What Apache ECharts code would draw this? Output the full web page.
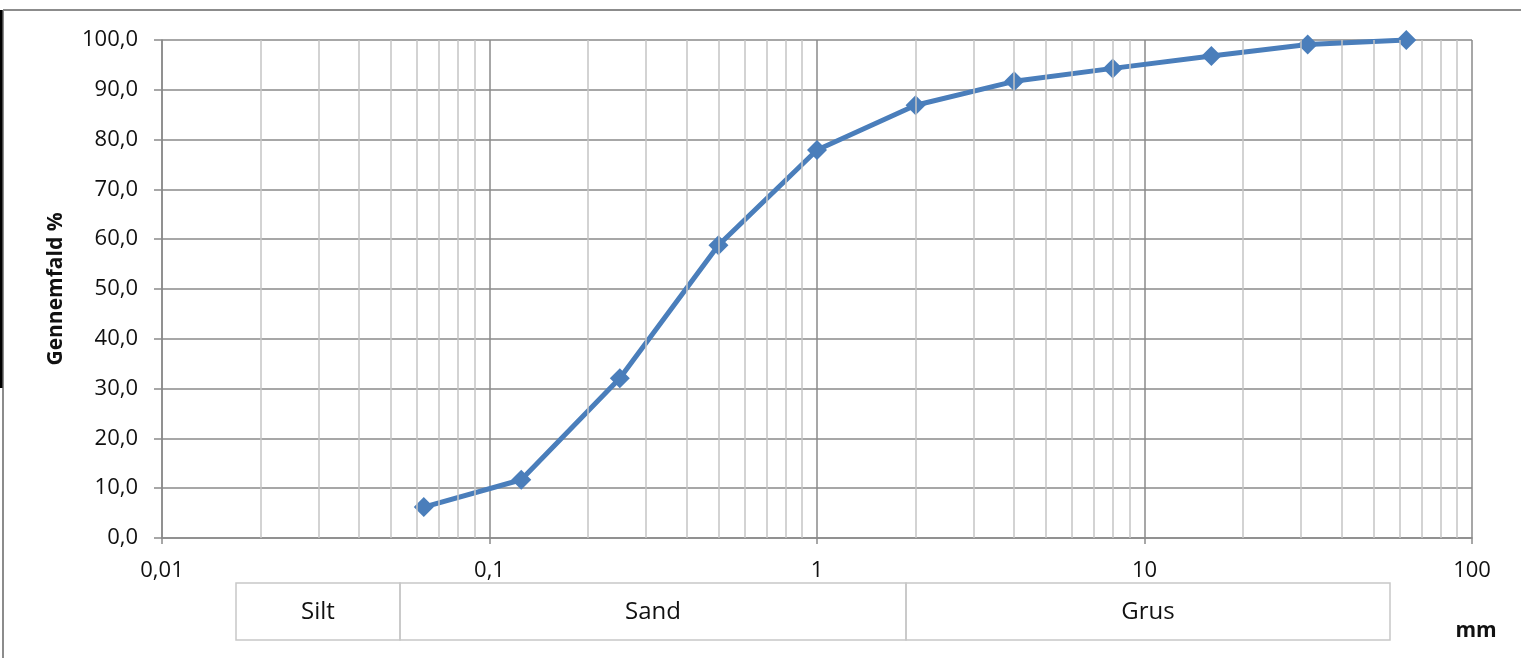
<!DOCTYPE html>
<html>
<head>
<meta charset="utf-8">
<script src="https://cdn.jsdelivr.net/npm/echarts@6/dist/echarts.min.js"></script>
<style>
  html, body { margin: 0; padding: 0; background: #fff; }
  #chart { width: 1521px; height: 658px; }
</style>
</head>
<body>
<div id="chart"></div>
<script>
// sieve sizes (mm) and percent passing
var sieveSizes = [0.063, 0.125, 0.25, 0.5, 1, 2, 4, 8, 16, 31.5, 63];
var passing = [6.2, 11.7, 32.1, 58.8, 77.9, 86.9, 91.7, 94.3, 96.8, 99.1, 100.0];
var xTickLabels = ['0,01', '0,1', '1', '10', '100'];
var soilClasses = ['Silt', 'Sand', 'Grus'];

var blue = '#4a7ebb';
var major = '#8a8a8a';
var minor = '#c4c4c4';
var font = '"Open Sans", sans-serif';

// minor log gridlines 2..9 in each decade
var minorLines = [];
for (var k = -2; k <= 1; k++) {
  for (var m = 2; m <= 9; m++) {
    minorLines.push({ xAxis: Number((m * Math.pow(10, k)).toPrecision(3)) });
  }
}

var chart = echarts.init(document.getElementById('chart'), null, { renderer: 'canvas' });

// class table under the axis
var boxes = [[236, 400], [400, 906], [906, 1390]];
var tableEls = [];
boxes.forEach(function (b, i) {
  tableEls.push({
    type: 'rect', shape: { x: b[0], y: 583, width: b[1] - b[0], height: 57 },
    style: { fill: 'none', stroke: '#c8c8c8', lineWidth: 1.5 }
  });
  tableEls.push({
    type: 'text', x: (b[0] + b[1]) / 2, y: 612,
    style: { text: soilClasses[i], fill: '#111', font: '24px ' + font, textAlign: 'center', textVerticalAlign: 'middle' }
  });
});

chart.setOption({
  animation: false,
  grid: { left: 162, right: 49, top: 40, bottom: 120 },
  xAxis: {
    type: 'log', logBase: 10, min: 0.01, max: 100,
    axisLine: { show: true, onZero: false, lineStyle: { color: major, width: 1.5 } },
    axisTick: { show: true, length: 6, lineStyle: { color: major, width: 1.5 } },
    axisLabel: {
      color: '#111', fontSize: 22, fontFamily: font, margin: 22,
      formatter: function (v) {
        var idx = Math.round(Math.log10(v)) + 2;
        return xTickLabels[idx];
      }
    },
    splitLine: { show: true, lineStyle: { color: major, width: 1.5 } }
  },
  yAxis: {
    type: 'value', min: 0, max: 100, interval: 10,
    name: 'Gennemfald %', nameLocation: 'middle', nameGap: 95,
    nameTextStyle: { color: '#111', fontSize: 21, fontWeight: 'bold', fontFamily: font },
    axisLine: { show: true, lineStyle: { color: major, width: 1.5 } },
    axisTick: { show: true, length: 8, lineStyle: { color: major, width: 1.5 } },
    axisLabel: {
      color: '#111', fontSize: 22, fontFamily: font, margin: 24,
      formatter: function (v) { return v.toFixed(1).replace('.', ','); }
    },
    splitLine: { show: true, lineStyle: { color: major, width: 1.5 } }
  },
  graphic: [
    { type: 'line', shape: { x1: 3, y1: 10, x2: 1521, y2: 10 }, style: { stroke: '#8c8c8c', lineWidth: 2 } },
    { type: 'line', shape: { x1: 3, y1: 10, x2: 3, y2: 658 }, style: { stroke: '#8c8c8c', lineWidth: 2 } },
    { type: 'line', shape: { x1: 1, y1: 10, x2: 1, y2: 388 }, style: { stroke: '#000', lineWidth: 3 } },
    { type: 'group', children: tableEls },
    {
      type: 'text', x: 1476, y: 631,
      style: { text: 'mm', fill: '#111', font: 'bold 21px ' + font, textAlign: 'center', textVerticalAlign: 'middle' }
    }
  ],
  series: [
    {
      type: 'line', data: [], z: 1, silent: true,
      markLine: {
        silent: true, symbol: 'none', label: { show: false },
        lineStyle: { color: minor, width: 1.5, type: 'solid' },
        data: minorLines
      }
    },
    {
      type: 'line', z: 3,
      data: sieveSizes.map(function (s, i) { return [s, passing[i]]; }),
      symbol: 'diamond', symbolSize: 20,
      lineStyle: { color: blue, width: 5 },
      itemStyle: { color: blue }
    }
  ]
});
</script>
</body>
</html>
